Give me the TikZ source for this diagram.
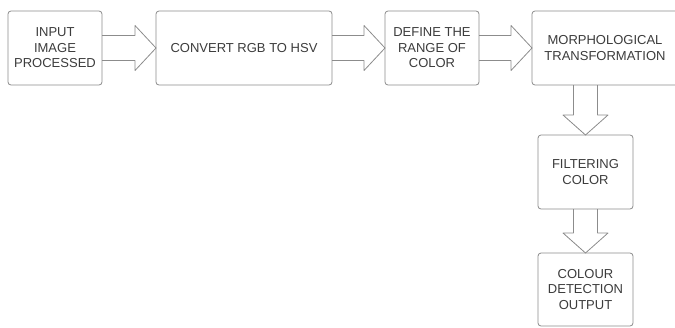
\documentclass[tikz,border=0pt]{standalone}
\usepackage{fontspec}
\setmainfont{Liberation Sans}
\usetikzlibrary{calc}
\definecolor{edge}{HTML}{8C8C8C}
\definecolor{ink}{HTML}{3C3C3C}
\begin{document}
\begin{tikzpicture}[x=1pt,y=-1pt,
  box/.style={draw=edge, line width=0.8pt, rounded corners=3pt, fill=white,
    outer sep=0pt, inner sep=2pt, minimum height=74pt, align=center,
    text=ink, font=\fontsize{13}{15.5}\selectfont},
  blockarrow/.style={draw=edge, line width=0.8pt, line join=round}]
\useasboundingbox (0,0) rectangle (675,327);
\clip (0,0) rectangle (675,327);
\node[box, minimum width=94pt] (b1) at (55,48) {INPUT\\IMAGE\\PROCESSED};
\node[box, minimum width=176pt] (b2) at (244,48) {CONVERT RGB TO HSV};
\node[box, minimum width=94pt] (b3) at (432,48) {DEFINE THE\\RANGE OF\\COLOR};
\node[box, minimum width=146pt] (b4) at (605,48) {MORPHOLOGICAL\\TRANSFORMATION};
\node[box, minimum width=95pt] (b5) at (585.5,172) {FILTERING\\COLOR};
\node[box, minimum width=95pt, minimum height=73pt] (b6) at (585.5,289.5) {COLOUR\\DETECTION\\OUTPUT};
% horizontal block arrows
\foreach \a/\b in {b1/b2, b2/b3, b3/b4}{
  \draw[blockarrow] ([yshift=12.5pt]\a.east) -- ([xshift=-21pt,yshift=12.5pt]\b.west)
    -- ([xshift=-21pt,yshift=22.5pt]\b.west) -- (\b.west)
    -- ([xshift=-21pt,yshift=-22.5pt]\b.west) -- ([xshift=-21pt,yshift=-12.5pt]\b.west)
    -- ([yshift=-12.5pt]\a.east);
}
% vertical block arrows
\coordinate (d1) at (b5.north |- b4.south);
\draw[blockarrow] ([xshift=-12pt]d1) -- ([xshift=-12pt,yshift=20pt]b5.north)
  -- ([xshift=-22.5pt,yshift=20pt]b5.north) -- (b5.north)
  -- ([xshift=22.5pt,yshift=20pt]b5.north) -- ([xshift=12pt,yshift=20pt]b5.north)
  -- ([xshift=12pt]d1);
\draw[blockarrow] ([xshift=-12pt]b5.south) -- ([xshift=-12pt,yshift=20pt]b6.north)
  -- ([xshift=-22.5pt,yshift=20pt]b6.north) -- (b6.north)
  -- ([xshift=22.5pt,yshift=20pt]b6.north) -- ([xshift=12pt,yshift=20pt]b6.north)
  -- ([xshift=12pt]b5.south);
\end{tikzpicture}
\end{document}
